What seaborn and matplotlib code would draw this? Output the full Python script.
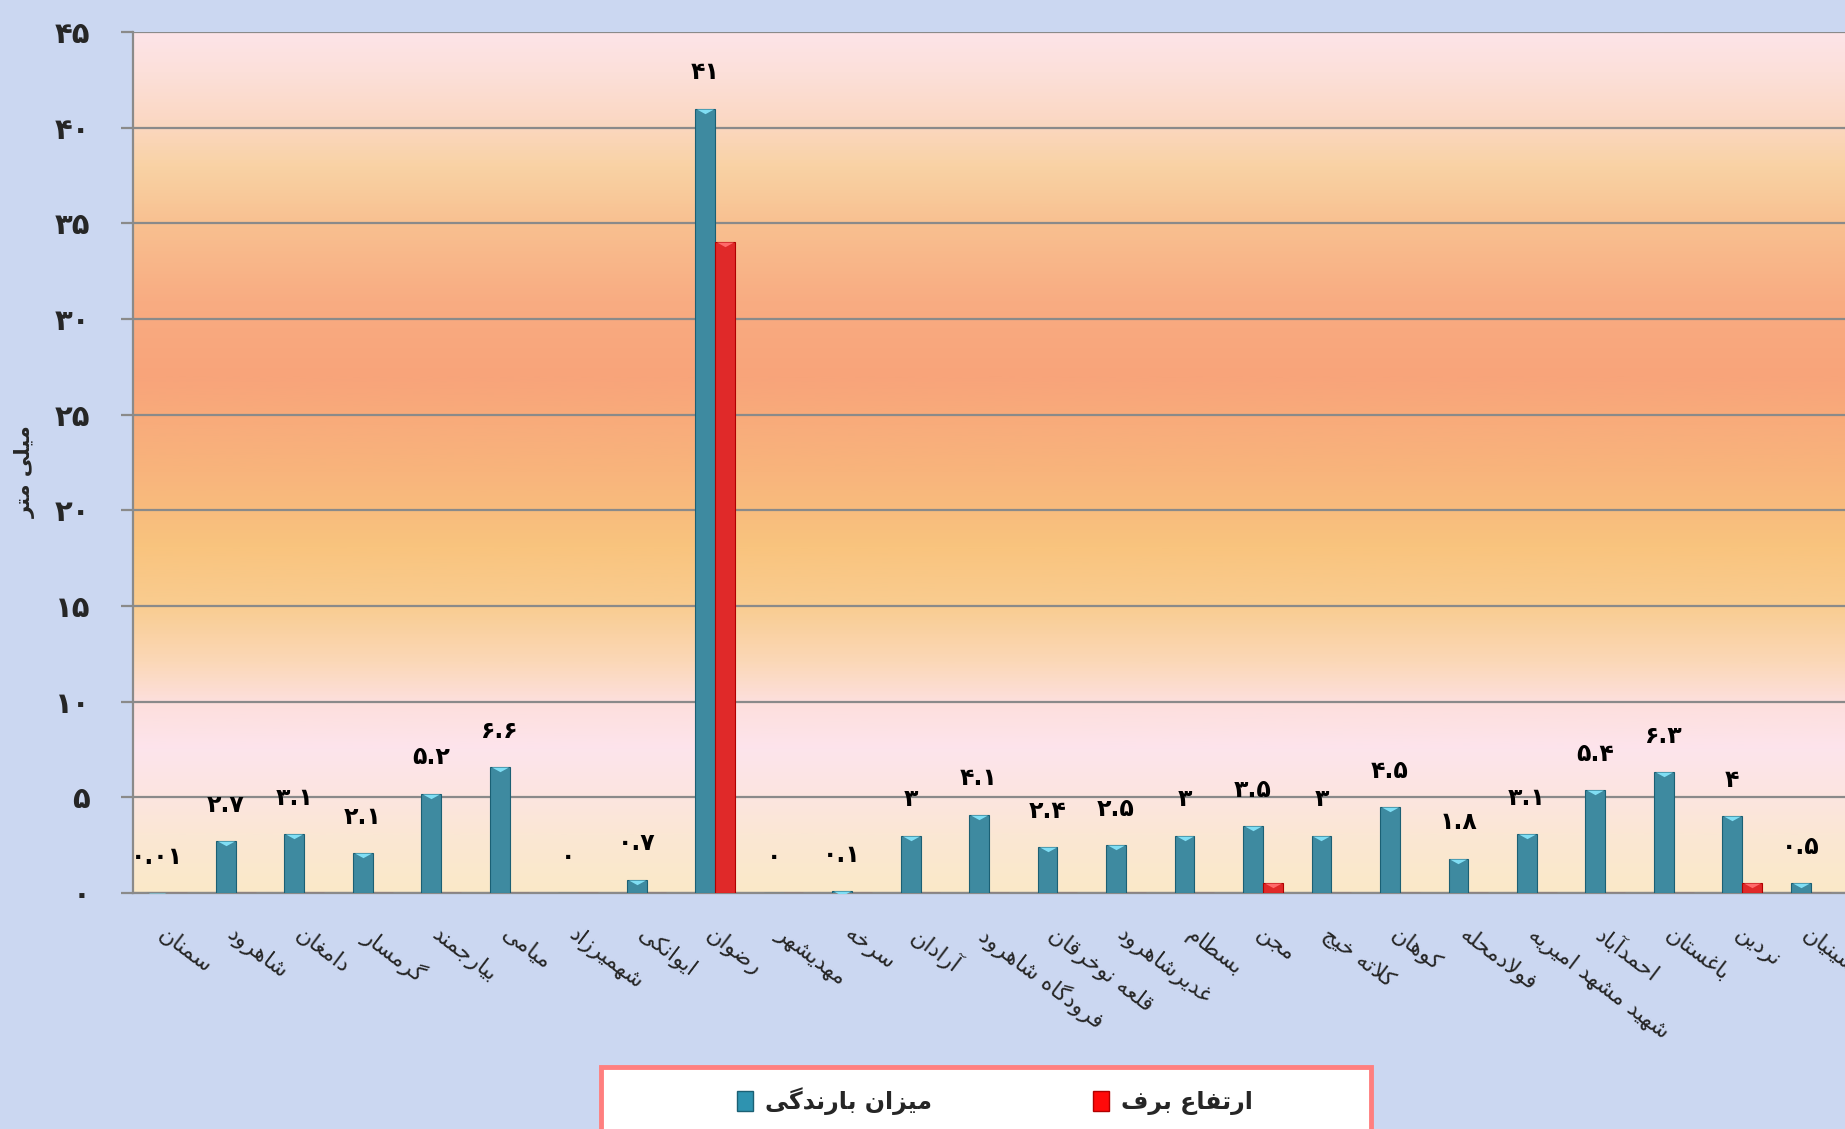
import matplotlib
matplotlib.use("Agg")
import numpy as np
import pandas as pd
import matplotlib.pyplot as plt
import seaborn as sns
from matplotlib.colors import LinearSegmentedColormap
from matplotlib.patches import Patch, Rectangle

# ======== DATA ========
stations = ["سمنان", "شاهرود", "دامغان", "گرمسار", "بیارجمند", "میامی", "شهمیرزاد",
            "ایوانکی", "رضوان", "مهدیشهر", "سرخه", "آرادان", "فرودگاه شاهرود",
            "قلعه نوخرقان", "غدیرشاهرود", "بسطام", "مجن", "کلاته خیج", "کوهان",
            "فولادمحله", "شهید مشهد امیریه", "احمدآباد", "باغستان", "نردین", "حسینیان"]
rain = [0.01, 2.7, 3.1, 2.1, 5.2, 6.6, 0, 0.7, 41, 0, 0.1, 3, 4.1, 2.4, 2.5,
        3, 3.5, 3, 4.5, 1.8, 3.1, 5.4, 6.3, 4, 0.5]
snow = [0, 0, 0, 0, 0, 0, 0, 0, 34, 0, 0, 0, 0, 0, 0,
        0, 0.5, 0, 0, 0, 0, 0, 0, 0.5, 0]
rain_name = "میزان بارندگی"
snow_name = "ارتفاع برف"
y_title = "میلی متر"
y_ticks = [0, 5, 10, 15, 20, 25, 30, 35, 40, 45]

BLUE = "#2e93b0"
BLUE_EDGE = "#1b6074"
BLUE_TOP = "#80def4"
RED = "#ff0a0a"
RED_EDGE = "#b00000"
RED_TOP = "#ff6a6a"

# ======== Persian shaping (matplotlib has no text shaping) ========
DUAL = {'ب': 0xFE8F, 'ت': 0xFE95, 'ث': 0xFE99, 'ج': 0xFE9D, 'ح': 0xFEA1, 'خ': 0xFEA5,
        'س': 0xFEB1, 'ش': 0xFEB5, 'ص': 0xFEB9, 'ض': 0xFEBD, 'ط': 0xFEC1, 'ظ': 0xFEC5,
        'ع': 0xFEC9, 'غ': 0xFECD, 'ف': 0xFED1, 'ق': 0xFED5, 'ل': 0xFEDD, 'م': 0xFEE1,
        'ن': 0xFEE5, 'ه': 0xFEE9, 'ي': 0xFEF1,
        'پ': 0xFB56, 'چ': 0xFB7A, 'ک': 0xFB8E, 'گ': 0xFB92, 'ی': 0xFBFC}
RIGHT = {'ا': 0xFE8D, 'آ': 0xFE81, 'د': 0xFEA9, 'ذ': 0xFEAB, 'ر': 0xFEAD, 'ز': 0xFEAF,
         'ژ': 0xFB8A, 'و': 0xFEED, 'ة': 0xFE93}


def shape(text):
    out = []
    n = len(text)
    i = 0
    while i < n:
        c = text[i]
        prev = text[i - 1] if i > 0 else None
        nxt = text[i + 1] if i + 1 < n else None
        link_prev = prev in DUAL
        if c == 'ل' and nxt in ('ا', 'آ'):
            base = 0xFEFB if nxt == 'ا' else 0xFEF5
            out.append(chr(base + (1 if link_prev else 0)))
            i += 2
            continue
        if c in DUAL:
            link_next = nxt is not None and (nxt in DUAL or nxt in RIGHT)
            if link_prev and link_next:
                k = 3
            elif link_next:
                k = 2
            elif link_prev:
                k = 1
            else:
                k = 0
            out.append(chr(DUAL[c] + k))
        elif c in RIGHT:
            out.append(chr(RIGHT[c] + (1 if link_prev else 0)))
        else:
            out.append(c)
        i += 1
    return "".join(reversed(out))


FA_DIGITS = str.maketrans("0123456789", "۰۱۲۳۴۵۶۷۸۹")


def fa(v):
    return f"{v:g}".translate(FA_DIGITS)


# ======== PLOT ========
sns.set_theme(style="white")
plt.rcParams["font.family"] = ["DejaVu Sans"]

df = pd.DataFrame({
    "station": [shape(s) for s in stations] * 2,
    "series": [rain_name] * len(stations) + [snow_name] * len(stations),
    "value": rain + snow,
})

fig = plt.figure(figsize=(18.45, 11.29), dpi=100)
fig.patch.set_facecolor("#cbd7f1")
ax = fig.add_axes([133 / 1845, 1 - 893 / 1129, 1 - 133 / 1845, (893 - 32) / 1129])

sns.barplot(data=df, x="station", y="value", hue="series",
            hue_order=[rain_name, snow_name], palette=[BLUE, RED],
            width=0.58, errorbar=None, legend=False, ax=ax,
            edgecolor=[BLUE_EDGE], linewidth=0.8, zorder=3)
for bar in ax.containers[1]:
    bar.set_edgecolor(RED_EDGE)

# bevel on bar tops
tri = [(-1, 0), (1, 0), (0, -0.55), (-1, 0)]
for cont, vals, col in [(ax.containers[0], rain, BLUE_TOP), (ax.containers[1], snow, RED_TOP)]:
    xs = [b.get_x() + b.get_width() / 2 for b, v in zip(cont, vals) if v > 0]
    ys = [v for v in vals if v > 0]
    ax.scatter(xs, ys, marker=tri, s=150, color=col, linewidths=0, zorder=4)

# value labels over rain bars
for bar, v in zip(ax.containers[0], rain):
    ax.annotate(fa(v), (bar.get_x() + bar.get_width() / 2, v), xytext=(0, 26),
                textcoords="offset points", ha="center", va="center",
                fontsize=17, fontweight="bold", color="black", zorder=5)

# plot area gradient
stops = [(0, "#fae9c8"), (3, "#fbe7d4"), (5, "#fce5e0"), (7.5, "#fde4ec"),
         (10, "#fddfdc"), (12, "#fbd8b8"), (15, "#f9cc90"), (18, "#f9c47e"),
         (22, "#f8b47c"), (27, "#f8a47a"), (31, "#f9ac82"), (35, "#f8c090"),
         (38, "#f9d2a4"), (40.5, "#fbd8c4"), (43, "#fce0da"), (45, "#fde4e8")]
cmap = LinearSegmentedColormap.from_list("bg", [(p / 45, c) for p, c in stops])
grad = np.linspace(0, 1, 512).reshape(-1, 1)
ax.imshow(grad, extent=(-0.5, 24.5, 0, 45), origin="lower", aspect="auto",
          cmap=cmap, zorder=0)

ax.set_xlim(-0.5, 24.5)
ax.set_ylim(0, 45)
ax.set_yticks(y_ticks)
ax.set_yticklabels([fa(t) for t in y_ticks], fontsize=21, fontweight="bold")
ax.yaxis.grid(True, color="#8a8a8a", linewidth=1.6, zorder=1)
ax.set_axisbelow(True)
ax.tick_params(axis="y", length=9, width=1.6, color="#8a8a8a", pad=22, left=True)
ax.tick_params(axis="x", length=0, pad=22)
plt.setp(ax.get_xticklabels(), rotation=-37, ha="left", va="top",
         rotation_mode="anchor", fontsize=16)
ax.set_xlabel("")
ax.set_ylabel("")
for side in ["top", "right"]:
    ax.spines[side].set_visible(False)
for side in ["left", "bottom"]:
    ax.spines[side].set_color("#8a8a8a")
    ax.spines[side].set_linewidth(1.6)

fig.text(25 / 1845, 1 - 472 / 1129, shape(y_title), rotation=90, ha="center",
         va="center", fontsize=15, fontweight="bold")

# legend box
fig.add_artist(Rectangle((601 / 1845, -0.02), 770 / 1845, 0.02 + 1 - 1067 / 1129,
                         transform=fig.transFigure, facecolor="white",
                         edgecolor="#ff7f7f", linewidth=3.5, clip_on=False))
handles = [Patch(facecolor=BLUE, edgecolor=BLUE_EDGE), Patch(facecolor=RED, edgecolor=RED_EDGE)]
fig.legend(handles, [shape(rain_name), shape(snow_name)], ncol=2, loc="center",
           bbox_to_anchor=(995 / 1845, 1 - 1101 / 1129), frameon=False,
           prop=dict(size=17, weight="bold"), handlelength=0.7, handleheight=0.9,
           handletextpad=0.5, columnspacing=6.8)

fig.savefig("out.png", dpi=100, facecolor=fig.get_facecolor())
